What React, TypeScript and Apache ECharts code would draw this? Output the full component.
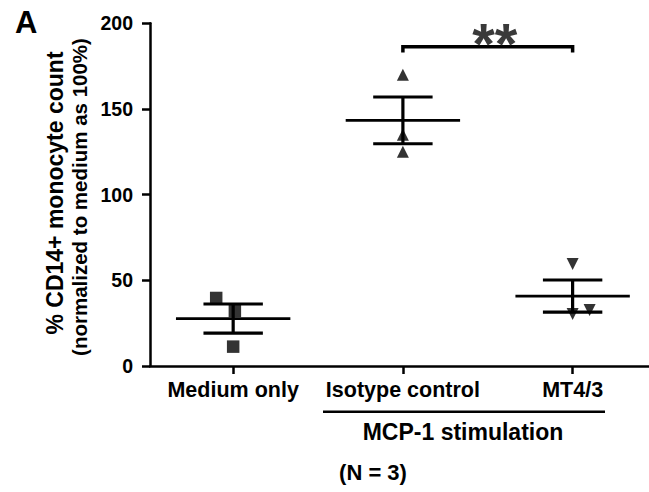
import React, { useEffect, useRef } from "react";
import * as echarts from "echarts";

// ---- data ----
const categories = ["Medium only", "Isotype control", "MT4/3"];
const categoryPositions = [1, 2, 3];

const mediumX = [0.9, 1.01, 1.0];
const mediumY = [39.7, 32.1, 11.3];

const isotypeX = [2.0, 2.0, 2.0];
const isotypeY = [170, 135, 125];

const mt43X = [3.0, 3.0, 3.1];
const mt43Y = [59.5, 30.3, 32.7];

const yMin = 0;
const yMax = 200;
const yInterval = 50;

const sigPair = [2, 3];
const sigTop = 186.3;
const sigHook = 183;
const sigLabel = "**";

const groupLabel = "MCP-1 stimulation";
const nLabel = "(N = 3)";
const panelLabel = "A";
const yTitle1 = "% CD14+ monocyte count";
const yTitle2 = "(normalized to medium as 100%)";

const FONT = "'Liberation Sans', Arial, Helvetica, sans-serif";

function meanSem(v: number[]) {
  const n = v.length;
  const m = v.reduce((a, b) => a + b, 0) / n;
  const sd = Math.sqrt(v.reduce((a, b) => a + (b - m) * (b - m), 0) / (n - 1));
  return [m, sd / Math.sqrt(n)];
}

export default function App() {
  const ref = useRef<HTMLDivElement>(null);

  useEffect(() => {
    if (!ref.current) return;
    const chart = echarts.init(ref.current, undefined, { renderer: "svg" });

    const groups = [mediumY, isotypeY, mt43Y];
    const summary = groups.map((g, i) => {
      const [m, s] = meanSem(g);
      return [categoryPositions[i], m, s];
    });

    const pts = (xs: number[], ys: number[]) => xs.map((x, i) => [x, ys[i]]);

    const option: any = {
      animation: false,
      backgroundColor: "#fff",
      grid: { left: 150, right: 0, top: 23.3, bottom: 126, containLabel: false },
      xAxis: {
        type: "value",
        min: 0.51,
        max: 3.45,
        splitLine: { show: false },
        axisLine: { show: true, lineStyle: { color: "#000", width: 2.5 } },
        axisTick: {
          show: true,
          customValues: categoryPositions,
          length: 8,
          lineStyle: { color: "#000", width: 2.5 },
        },
        axisLabel: {
          show: true,
          customValues: categoryPositions,
          formatter: (v: number) => categories[Math.round(v) - 1] || "",
          fontFamily: FONT,
          fontWeight: "bold",
          fontSize: 21.5,
          color: "#000",
          margin: 13,
        },
      },
      yAxis: {
        type: "value",
        min: yMin,
        max: yMax,
        interval: yInterval,
        splitLine: { show: false },
        axisLine: { show: true, lineStyle: { color: "#000", width: 2.5 } },
        axisTick: { show: true, length: 8, lineStyle: { color: "#000", width: 2.5 } },
        axisLabel: {
          fontFamily: FONT,
          fontWeight: "bold",
          fontSize: 19.5,
          color: "#000",
          margin: 17,
        },
      },
      series: [
        {
          type: "scatter",
          name: categories[0],
          symbol: "rect",
          symbolSize: 12.5,
          itemStyle: { color: "#000" },
          data: pts(mediumX, mediumY),
          z: 2,
        },
        {
          type: "scatter",
          name: categories[1],
          symbol: "triangle",
          symbolSize: 12,
          itemStyle: { color: "#000" },
          data: pts(isotypeX, isotypeY),
          z: 2,
        },
        {
          type: "scatter",
          name: categories[2],
          symbol: "triangle",
          symbolRotate: 180,
          symbolSize: 12,
          itemStyle: { color: "#000" },
          data: pts(mt43X, mt43Y),
          z: 2,
        },
        {
          type: "custom",
          name: "mean ± SEM",
          z: 3,
          clip: false,
          data: summary,
          renderItem: (params: any, api: any) => {
            const x = api.value(0);
            const m = api.value(1);
            const s = api.value(2);
            const unit = api.size([1, 0])[0];
            const c = api.coord([x, m]);
            const hi = api.coord([x, m + s]);
            const lo = api.coord([x, m - s]);
            const mh = 0.337 * unit;
            const sh = 0.175 * unit;
            const st = { stroke: "#000", lineWidth: 3.2 };
            return {
              type: "group",
              children: [
                { type: "line", shape: { x1: c[0] - mh, y1: c[1], x2: c[0] + mh, y2: c[1] }, style: { stroke: "#000", lineWidth: 2.8 } },
                { type: "line", shape: { x1: hi[0] - sh, y1: hi[1], x2: hi[0] + sh, y2: hi[1] }, style: st },
                { type: "line", shape: { x1: lo[0] - sh, y1: lo[1], x2: lo[0] + sh, y2: lo[1] }, style: st },
                { type: "line", shape: { x1: hi[0], y1: hi[1], x2: lo[0], y2: lo[1] }, style: st },
              ],
            };
          },
        },
        {
          type: "custom",
          name: "significance",
          z: 4,
          clip: false,
          data: [[sigPair[0], sigPair[1], sigTop, sigHook]],
          renderItem: (params: any, api: any) => {
            const a = api.coord([api.value(0), api.value(2)]);
            const b = api.coord([api.value(1), api.value(2)]);
            const ah = api.coord([api.value(0), api.value(3)]);
            return {
              type: "group",
              children: [
                {
                  type: "polyline",
                  shape: { points: [[a[0], ah[1]], [a[0], a[1]], [b[0], b[1]], [b[0], ah[1]]] },
                  style: { stroke: "#000", lineWidth: 3.5, fill: "none" },
                },
                {
                  type: "text",
                  x: (a[0] + b[0]) / 2 + 7,
                  y: a[1] - 32,
                  style: {
                    text: sigLabel,
                    fontFamily: FONT,
                    fontWeight: "bold",
                    fontSize: 58,
                    fill: "#3a3a3a",
                    align: "center",
                    verticalAlign: "top",
                    lineHeight: 58,
                  },
                },
              ],
            };
          },
        },
      ],
      graphic: [
        {
          type: "text",
          x: 15,
          y: 7,
          style: { text: panelLabel, fontFamily: FONT, fontWeight: "bold", fontSize: 31, fill: "#000", align: "left", verticalAlign: "top" },
        },
        {
          type: "text",
          x: 55,
          y: 193,
          rotation: Math.PI / 2,
          style: { text: yTitle1, fontFamily: FONT, fontWeight: "bold", fontSize: 23, fill: "#000", align: "center", verticalAlign: "middle" },
        },
        {
          type: "text",
          x: 79,
          y: 197,
          rotation: Math.PI / 2,
          style: { text: yTitle2, fontFamily: FONT, fontWeight: "bold", fontSize: 20.5, fill: "#000", align: "center", verticalAlign: "middle" },
        },
        {
          type: "line",
          shape: { x1: 323, y1: 411.7, x2: 605, y2: 411.7 },
          style: { stroke: "#000", lineWidth: 2.5 },
        },
        {
          type: "text",
          x: 463,
          y: 431.5,
          style: { text: groupLabel, fontFamily: FONT, fontWeight: "bold", fontSize: 23, fill: "#000", align: "center", verticalAlign: "middle" },
        },
        {
          type: "text",
          x: 373,
          y: 472,
          style: { text: nLabel, fontFamily: FONT, fontWeight: "bold", fontSize: 22, fill: "#000", align: "center", verticalAlign: "middle" },
        },
      ],
    };

    chart.setOption(option);
    return () => chart.dispose();
  }, []);

  return (
    <div
      ref={ref}
      style={{ position: "fixed", left: 0, top: 0, width: 649, height: 492, background: "#fff" }}
    />
  );
}
